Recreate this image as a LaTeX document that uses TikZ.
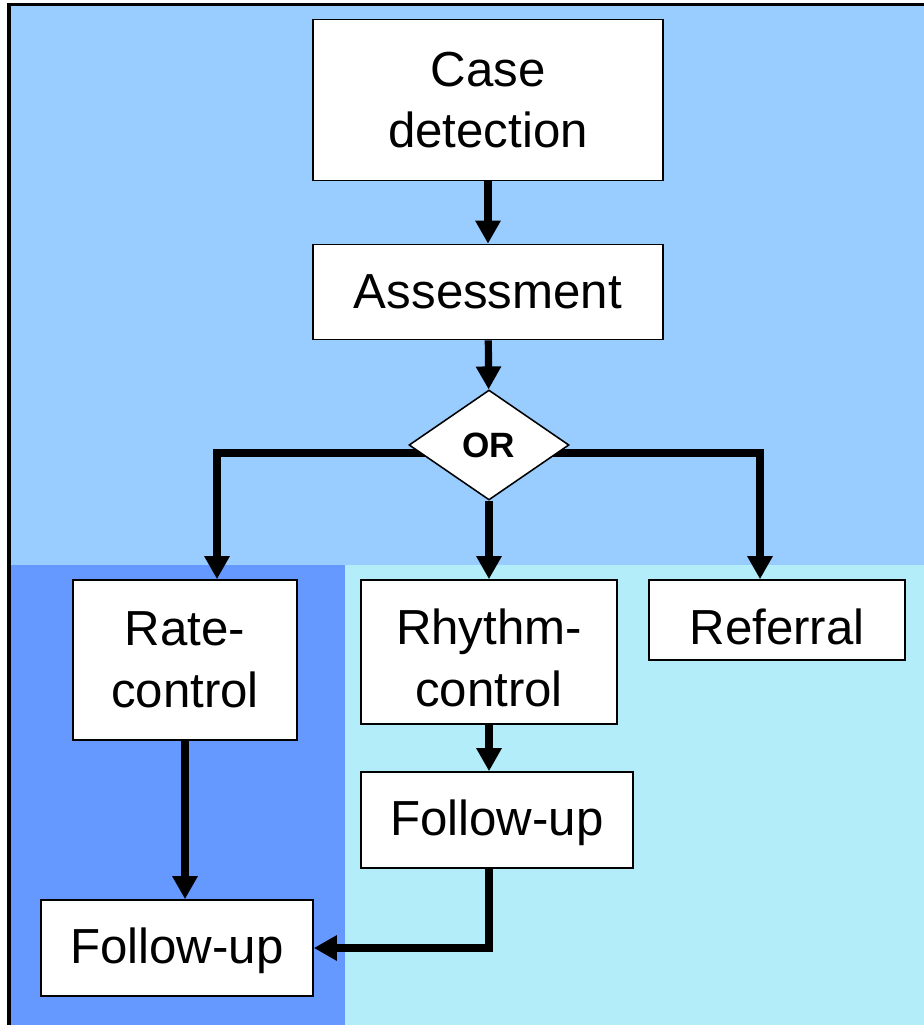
\documentclass[tikz,border=0pt]{standalone}
\usepackage{fontspec}
\setmainfont{Liberation Sans}
\usetikzlibrary{arrows.meta,shapes.geometric}
\definecolor{topblue}{RGB}{153,204,255}
\definecolor{rateblue}{RGB}{102,153,255}
\definecolor{paleblue}{RGB}{179,237,250}
\pgfdeclarelayer{bg}
\pgfdeclarelayer{lines}
\pgfsetlayers{bg,lines,main}
\newcommand\sinkby[1]{\rule{0pt}{#1}}
\tikzset{
	box/.style={draw, line width=1.1pt, fill=white, align=center, inner sep=0pt,
			font=\fontsize{35}{44}\selectfont},
	choice/.style={diamond, draw, line width=1.1pt, fill=white, inner sep=0pt,
			minimum width=4cm, minimum height=2.75cm, font=\bfseries\fontsize{25}{30}\selectfont},
	arr/.style={-{Triangle[length=0.575cm,width=0.6cm]}, line width=0.18cm}
}

\begin{document}
\begin{tikzpicture}[x=0.025cm, y=-0.025cm]
		\useasboundingbox (0,0) rectangle (924,1025);

		% Background panels
		\begin{pgfonlayer}{bg}
			\fill[topblue] (9,5) rectangle (924,565);
			\fill[rateblue] (9,565) rectangle (345,1025);
			\fill[paleblue] (345,565) rectangle (924,1025);
			\draw[line width=0.075cm] (9,1025) -- (9,5) -- (924,5);
		\end{pgfonlayer}

		% Steps
		\node[box, minimum width=8.75cm, minimum height=4.025cm] (case) at (488,100) {Case\\detection};
		\node[box, minimum width=8.75cm, minimum height=2.375cm] (assess) at (488,292) {Assessment};
		\node[choice] (or) at (489,445) {OR};
		\node[box, minimum width=5.6cm, minimum height=4cm] (rate) at (185,660) {Rate-\\control};
		\node[box, minimum width=6.4cm, minimum height=3.6cm] (rhythm) at (489,652) {\sinkby{34pt}Rhythm-\\control};
		\node[box, minimum width=6.4cm, minimum height=2cm] (referral) at (777,620) {\sinkby{35pt}Referral};
		\node[box, minimum width=6.8cm, minimum height=2.4cm] (fumid) at (497,820) {\sinkby{29.5pt}Follow-up};
		\node[box, minimum width=6.8cm, minimum height=2.4cm] (fuleft) at (177,948) {\sinkby{29.5pt}Follow-up};

		% Connectors
		\begin{pgfonlayer}{lines}
			\draw[arr] (case) -- (assess);
			\draw[arr] (assess) -- (or);
			\draw[arr] (or.center) ++(0,8) -| ([xshift=0.8cm]rate.north);
			\draw[arr] (or.center) ++(0,8) -| ([xshift=-0.425cm]referral.north);
			\draw[arr] (or) -- (rhythm);
			\draw[arr] (rate.south) -- (rate.south |- fuleft.north);
			\draw[arr] (rhythm.south) -- (rhythm.south |- fumid.north);
			\draw[arr] (rhythm.south |- fumid.south) |- (fuleft.east);
		\end{pgfonlayer}
	\end{tikzpicture}
\end{document}
